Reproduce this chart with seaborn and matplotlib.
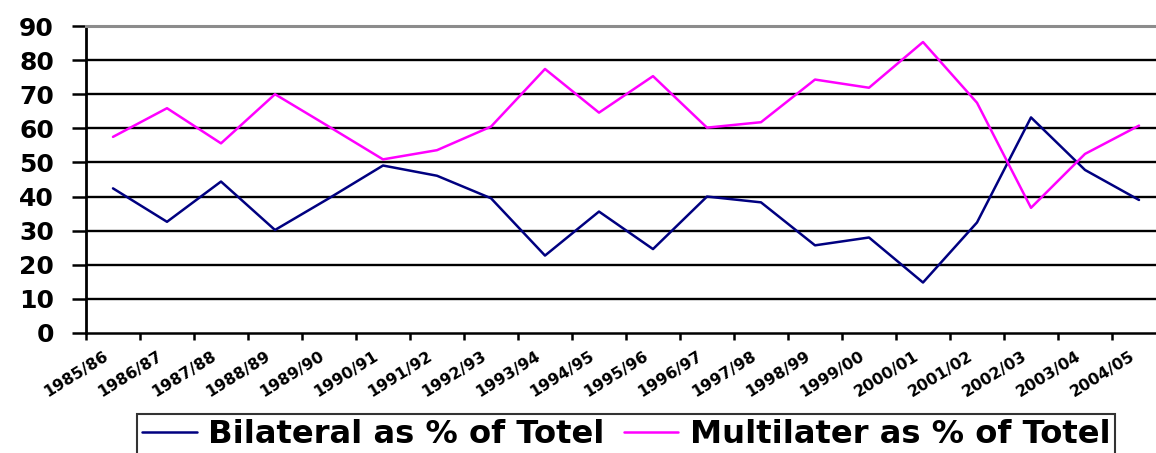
import numpy as np
import pandas as pd
import matplotlib
matplotlib.use("Agg")
import matplotlib.pyplot as plt
from matplotlib.transforms import ScaledTranslation
import seaborn as sns

# Financial years on the category axis
years = ["1985/86", "1986/87", "1987/88", "1988/89", "1989/90", "1990/91",
         "1991/92", "1992/93", "1993/94", "1994/95", "1995/96", "1996/97",
         "1997/98", "1998/99", "1999/00", "2000/01", "2001/02", "2002/03",
         "2003/04", "2004/05"]

# Share of total aid (%)
bilateral = [42.4, 32.6, 44.4, 30.2, 39.5, 49.1, 46.1, 39.5, 22.7, 35.6,
             24.6, 40.0, 38.3, 25.7, 28.0, 14.8, 32.4, 63.2, 47.8, 39.0]
multilateral = [57.5, 65.9, 55.6, 70.0, 60.5, 50.9, 53.6, 60.5, 77.4, 64.6,
                75.3, 60.2, 61.8, 74.3, 71.9, 85.3, 67.5, 36.7, 52.5, 60.8]

series_names = ["Bilateral as % of Totel", "Multilater as % of Totel"]
y_ticks = [0, 10, 20, 30, 40, 50, 60, 70, 80, 90]

df = pd.DataFrame({
    "year": years * 2,
    "pos": list(range(len(years))) * 2,
    "value": bilateral + multilateral,
    "series": [series_names[0]] * len(years) + [series_names[1]] * len(years),
})

sns.set_style("white")
plt.rcParams["font.family"] = ["DejaVu Sans"]
plt.rcParams["text.color"] = "black"
plt.rcParams["xtick.color"] = "black"
plt.rcParams["ytick.color"] = "black"
plt.rcParams["xtick.labelcolor"] = "black"
plt.rcParams["ytick.labelcolor"] = "black"

W, H = 1156, 453
fig = plt.figure(figsize=(W / 100, H / 100), dpi=100)
ax = fig.add_axes([86 / W, 120 / H, 1080 / W, 307 / H])

sns.lineplot(data=df, x="pos", y="value", hue="series",
             palette={series_names[0]: "#000080", series_names[1]: "#FF00FF"},
             linewidth=1.8, ax=ax, legend=True)

n = len(years)
ax.set_xlim(-0.5, n - 0.5)
ax.set_ylim(0, 90)
ax.set_xlabel("")
ax.set_ylabel("")

# horizontal gridlines (black), top border grey
for v in y_ticks[1:-1]:
    ax.axhline(v, color="black", lw=1.7, zorder=0.5)
ax.spines["right"].set_visible(False)
ax.spines["top"].set_color("#8c8c8c")
ax.spines["top"].set_linewidth(2.2)
ax.spines["left"].set_color("black")
ax.spines["left"].set_linewidth(2.0)
ax.spines["bottom"].set_color("black")
ax.spines["bottom"].set_linewidth(1.8)

ax.set_yticks(y_ticks)
ax.set_yticklabels([str(v) for v in y_ticks], fontsize=18,
                   fontweight="bold", color="black")
ax.tick_params(axis="y", direction="out", length=10, width=1.8,
               color="black", pad=13, left=True)

# boundary ticks between categories, labels at category centres
ax.set_xticks(np.arange(-0.5, n - 0.5, 1))
ax.set_xticklabels([""] * n)
ax.tick_params(axis="x", which="major", direction="out", length=5,
               width=1.8, color="black", bottom=True)
ax.set_xticks(np.arange(n), minor=True)
ax.set_xticklabels(years, minor=True, fontsize=11.5, fontweight="bold",
                   color="black")
ax.tick_params(axis="x", which="minor", length=0, pad=11)
shift = ScaledTranslation(-7 / 72, 0, fig.dpi_scale_trans)
for lab in ax.get_xticklabels(minor=True):
    lab.set_rotation(32)
    lab.set_ha("right")
    lab.set_va("top")
    lab.set_rotation_mode("anchor")
    lab.set_transform(lab.get_transform() + shift)

handles, labels = ax.get_legend_handles_labels()
ax.get_legend().remove()
for h in handles:
    h.set_linewidth(1.8)
leg = fig.legend(handles, labels, loc="upper center",
                 bbox_to_anchor=(626 / W, 1 - 414 / H), ncol=2,
                 frameon=True, fancybox=False, shadow=False,
                 prop={"size": 23.2, "weight": "bold"},
                 handlelength=1.7, handletextpad=0.35, columnspacing=0.6,
                 borderpad=0.15, borderaxespad=0)
for t in leg.get_texts():
    t.set_color("black")
leg.get_frame().set_edgecolor("black")
leg.get_frame().set_linewidth(1.5)
leg.get_frame().set_facecolor("white")

fig.savefig("out.png", dpi=100)
